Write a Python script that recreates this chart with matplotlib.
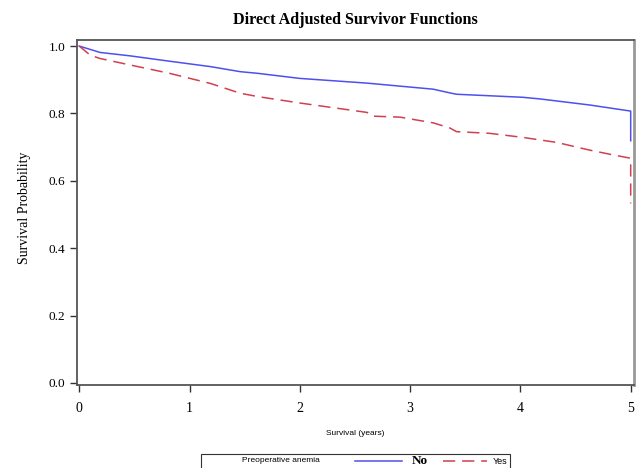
import matplotlib
matplotlib.use("Agg")
import matplotlib.pyplot as plt
from matplotlib.lines import Line2D
from matplotlib.patches import Rectangle

# Data
t_no = [0.0, 0.19, 0.46, 0.82, 1.19, 1.46, 1.62, 2.0, 2.61, 2.91, 3.21, 3.36, 3.42, 4.02, 4.18, 4.63, 5.0, 5.0]
s_no = [1.0, 0.981, 0.971, 0.955, 0.939, 0.924, 0.919, 0.904, 0.890, 0.881, 0.872, 0.861, 0.857, 0.848, 0.843, 0.825, 0.807, 0.719]

t_yes = [0.0, 0.1, 0.19, 0.46, 0.82, 1.19, 1.46, 1.62, 2.0, 2.61, 2.66, 2.91, 3.21, 3.36, 3.42, 3.72, 4.02, 4.33, 4.63, 4.84, 5.0, 5.0]
s_yes = [1.0, 0.973, 0.963, 0.944, 0.919, 0.889, 0.860, 0.850, 0.831, 0.803, 0.792, 0.789, 0.772, 0.757, 0.746, 0.741, 0.729, 0.714, 0.691, 0.677, 0.667, 0.533]

xticks = [0, 1, 2, 3, 4, 5]
yticks = [0.0, 0.2, 0.4, 0.6, 0.8, 1.0]

blue = "#4f4ff0"
red = "#d0404f"
serif = ["Liberation Serif", "DejaVu Serif"]
sans = ["Liberation Sans", "DejaVu Sans"]

W, H = 637, 468
fig = plt.figure(figsize=(W / 100, H / 100), dpi=100)
ax = fig.add_axes([77 / W, 1 - 385 / H, (634 - 77) / W, (385 - 40) / H])

ax.plot(t_no, s_no, color=blue, lw=1.1)
ax.plot(t_yes, s_yes, color=red, lw=1.1, dashes=(8, 4.5))

ax.set_xlim(-0.02, 5.03)
ax.set_ylim(-0.006, 1.018)
ax.set_xticks(xticks)
ax.set_xticklabels([str(v) for v in xticks], family=serif, fontsize=10)
ax.set_yticks(yticks)
ax.set_yticklabels([f"{v:.1f}" for v in yticks], family=serif, fontsize=9.5)
ax.tick_params(direction="out", length=5, width=1, color="#333333")
ax.tick_params(axis="y", pad=3.5)
ax.tick_params(axis="x", pad=7)
for s in ax.spines.values():
    s.set_color("#555555")
    s.set_linewidth(1.3)
ax.spines["right"].set_color("#999999")
ax.spines["right"].set_linewidth(2)

fig.text(25 / W, 1 - 208 / H, "Survival Probability", family=serif, fontsize=10,
         rotation=90, ha="center", va="center")
ax.set_xlabel("Survival (years)", family=sans, fontsize=6, labelpad=11)
fig.text(355 / W, 1 - 20 / H, "Direct Adjusted Survivor Functions", family=serif,
         fontweight="bold", fontsize=11.6, ha="center", va="center")

# Legend box
fig.patches.append(Rectangle((201 / W, -0.01), (510 - 201) / W, (1 - 454 / H) + 0.01,
                             transform=fig.transFigure, fill=False, edgecolor="#333333", lw=0.8))
ly = 1 - 461 / H
fig.text(281 / W, ly, "Preoperative anemia", family=sans, fontsize=6, ha="center", va="center")
fig.lines.append(Line2D([355 / W, 402 / W], [ly, ly], transform=fig.transFigure, color=blue, lw=1.1))
fig.text(412 / W, ly, "No", family=serif, fontweight="bold", fontsize=9.5, ha="left", va="center")
fig.lines.append(Line2D([443 / W, 487 / W], [ly, ly], transform=fig.transFigure, color=red, lw=1.1, dashes=(8, 4.5)))
fig.text(493 / W, ly, "Yes", family=sans, fontsize=6.5, ha="left", va="center")

fig.savefig("out.png", dpi=100)
